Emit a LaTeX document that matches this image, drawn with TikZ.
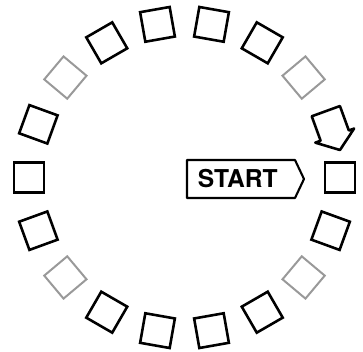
\documentclass[tikz,border=0pt]{standalone}
\usepackage{fontspec}
\setsansfont{TeX Gyre Heros}
\begin{document}
\begin{tikzpicture}[
    square/.style={draw,line width=2.2pt,minimum size=0.9cm,inner sep=0pt},
    faint/.style={square,draw=gray!80,line width=1.7pt},
  ]
  \useasboundingbox (-5.535,-5.205) rectangle (5.355,5.325);
  % squares round the ring
  \foreach \a in {0,60,80,100,120,160,180,200,240,260,280,300,340}
    \node[square,rotate=\a] (sq\a) at (\a:4.665) {};
  % the paler ones
  \foreach \a in {40,140,220,320}
    \node[faint,rotate=\a] (sq\a) at (\a:4.665) {};
  % arrow in place of the square at 20 degrees
  \begin{scope}[shift={(20:4.665)},rotate=20]
    \draw[line width=2.2pt,line join=round] (-0.45,0.42) -- (0.45,0.42) -- (0.45,-0.36)
      -- (0.62,-0.36) -- (0,-0.82) -- (-0.62,-0.36) -- (-0.45,-0.36) -- cycle;
  \end{scope}
  % start sign
  \node[font=\sffamily\bfseries\fontsize{21}{24}\selectfont] (start) at (1.6,-0.045) {START};
  \draw[line width=1.8pt,line join=round] (0.075,0.525) -- (3.315,0.525) -- (3.585,-0.045)
    -- (3.315,-0.615) -- (0.075,-0.615) -- cycle;
\end{tikzpicture}
\end{document}
